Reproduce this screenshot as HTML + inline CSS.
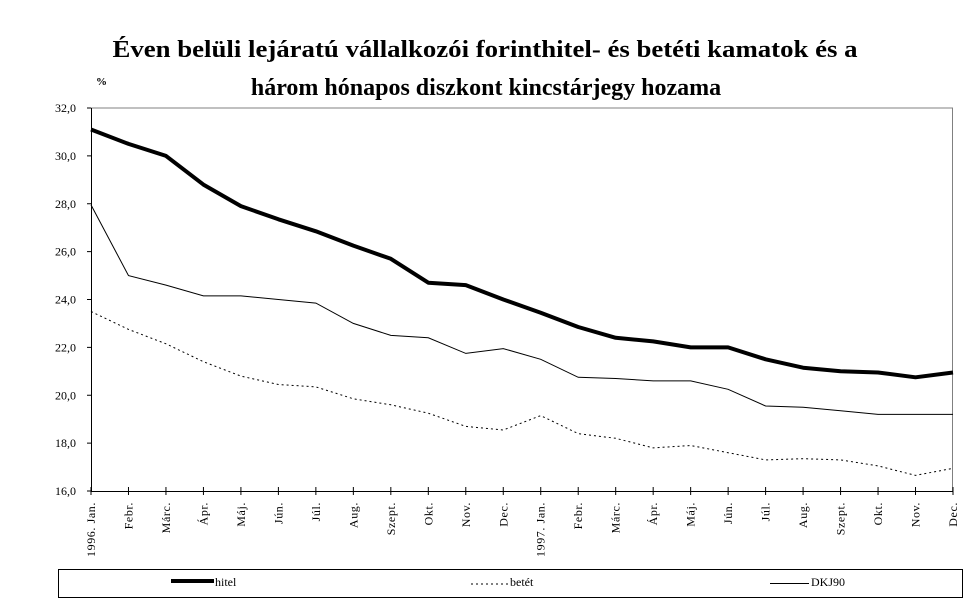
<!DOCTYPE html>
<html><head><meta charset="utf-8"><style>
html,body{margin:0;padding:0;background:#fff;}
svg{display:block;}
</style></head><body>
<svg id="s" width="969" height="603" xmlns="http://www.w3.org/2000/svg" font-family="Liberation Serif, serif">
<text x="485" y="57" text-anchor="middle" font-size="24" font-weight="bold" textLength="745" lengthAdjust="spacingAndGlyphs">Éven belüli lejáratú vállalkozói forinthitel- és betéti kamatok és a</text>
<text x="486" y="95" text-anchor="middle" font-size="24" font-weight="bold">három hónapos diszkont kincstárjegy hozama</text>
<text x="96" y="85" font-size="11" font-weight="bold">%</text>
<line x1="91" y1="108" x2="953" y2="108" stroke="#808080" stroke-width="1"/>
<line x1="952.5" y1="108" x2="952.5" y2="491" stroke="#808080" stroke-width="1"/>
<line x1="91.5" y1="108" x2="91.5" y2="491" stroke="#000" stroke-width="1"/>
<line x1="91" y1="491.5" x2="953" y2="491.5" stroke="#000" stroke-width="1"/>
<g id="g"></g>
<rect x="58.5" y="569.5" width="904" height="28" fill="none" stroke="#000"/>
<line x1="171" y1="581" x2="214" y2="581" stroke="#000" stroke-width="4"/>
<text x="215" y="586" font-size="12">hitel</text>
<line x1="471" y1="584" x2="510" y2="584" stroke="#000" stroke-width="1" stroke-dasharray="2,3"/>
<text x="510" y="586" font-size="12">betét</text>
<line x1="770" y1="583.5" x2="809" y2="583.5" stroke="#000" stroke-width="1"/>
<text x="811" y="586" font-size="12">DKJ90</text>
</svg>
<script>
var g=document.getElementById('g');
function X(i){return 91+i*(862/23);}
function Y(v){return 108+(32-v)*(383/16);}
var h='';
for(var v=16;v<=32;v+=2){var y=Y(v);h+='<line x1="87" y1="'+y+'" x2="91" y2="'+y+'" stroke="#000"/>';
h+='<text x="76" y="'+(y+4)+'" font-size="12" text-anchor="end">'+v+',0</text>';}
var m=['1996. Jan.','Febr.','Márc.','Ápr.','Máj.','Jún.','Júl.','Aug.','Szept.','Okt.','Nov.','Dec.','1997. Jan.','Febr.','Márc.','Ápr.','Máj.','Jún.','Júl.','Aug.','Szept.','Okt.','Nov.','Dec.'];
for(var i=0;i<24;i++){var x=X(i);h+='<line x1="'+x+'" y1="487" x2="'+x+'" y2="495" stroke="#000"/>';
h+='<text transform="translate('+(x+4)+',502) rotate(-90)" font-size="12" letter-spacing="0.6" text-anchor="end">'+m[i]+'</text>';}
var hit=[31.1,30.5,30.0,28.8,27.9,27.35,26.85,26.25,25.7,24.7,24.6,24.0,23.45,22.85,22.4,22.25,22.0,22.0,21.5,21.15,21.0,20.95,20.75,20.95];
var dkj=[27.95,25.0,24.6,24.15,24.15,24.0,23.85,23.0,22.5,22.4,21.75,21.95,21.5,20.75,20.7,20.6,20.6,20.25,19.55,19.5,19.35,19.2,19.2,19.2];
var bet=[23.5,22.75,22.15,21.4,20.8,20.45,20.35,19.85,19.6,19.25,18.7,18.55,19.15,18.4,18.2,17.8,17.9,17.6,17.3,17.35,17.3,17.05,16.65,16.95];
function P(a){return a.map(function(v,i){return X(i).toFixed(1)+','+Y(v).toFixed(1)}).join(' ');}
h+='<polyline points="'+P(dkj)+'" fill="none" stroke="#000" stroke-width="1"/>';
h+='<polyline points="'+P(bet)+'" fill="none" stroke="#000" stroke-width="1" stroke-dasharray="2,3"/>';
h+='<polyline points="'+P(hit)+'" fill="none" stroke="#000" stroke-width="4" stroke-linejoin="round"/>';
g.innerHTML=h;
</script>
</body></html>
